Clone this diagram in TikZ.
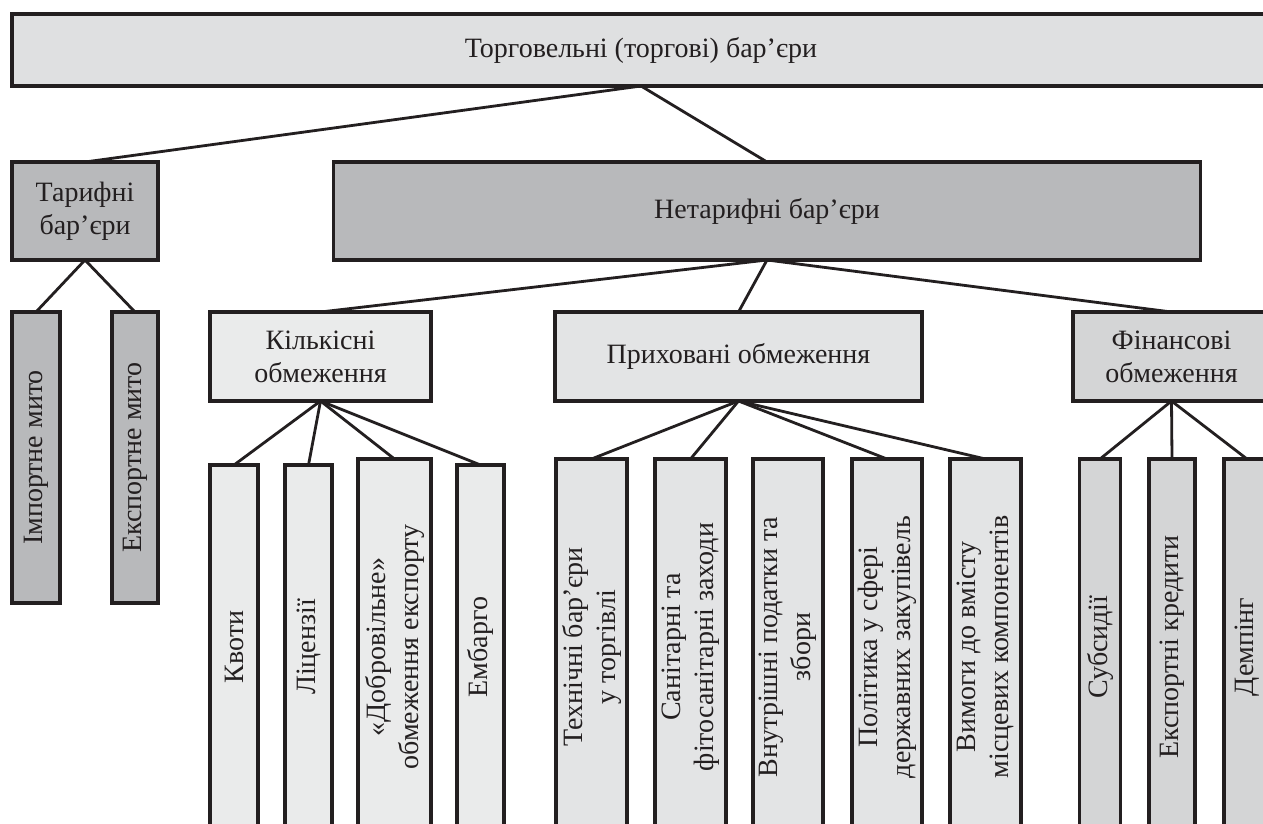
\documentclass[tikz,border=0pt]{standalone}
\usepackage{fontspec}
\setmainfont{Liberation Serif}
\definecolor{linec}{HTML}{231F20}
\definecolor{ctop}{HTML}{DFE0E1}
\definecolor{cdark}{HTML}{B8B9BB}
\definecolor{clight}{HTML}{EAEBEB}
\definecolor{cmid}{HTML}{E3E4E5}
\definecolor{cfin}{HTML}{D4D5D6}
\begin{document}
\begin{tikzpicture}[x=1pt,y=-1pt,
  box/.style={draw=linec, line width=3.5pt, text=linec, align=center, inner sep=2pt, outer sep=0pt,
    font=\fontsize{28}{33}\selectfont},
  vbox/.style={box, rotate=90},
  conn/.style={draw=linec, line width=2.8pt}]
\useasboundingbox (0,0) rectangle (1263,824);
\clip (0,0) rectangle (1263,824);
\fill[white] (0,0) rectangle (1263,824);
% level 0
\node[box, fill=ctop, minimum width=1258, minimum height=72] (top) at (641,50) {Торговельні (торгові) бар’єри};
% level 1
\node[box, fill=cdark, minimum width=146, minimum height=98] (tar) at (85,211) {Тарифні\\бар’єри};
\node[box, fill=cdark, minimum width=867, minimum height=98] (net) at (767,211) {Нетарифні бар’єри};
% level 2
\node[vbox, fill=cdark, minimum width=291, minimum height=48] (imp) at (36,457.5) {Імпортне мито};
\node[vbox, fill=cdark, minimum width=291, minimum height=46] (exp) at (135,457.5) {Експортне мито};
\node[box, fill=clight, minimum width=221, minimum height=89] (kil) at (320.5,356.5) {Кількісні\\обмеження};
\node[box, fill=cmid, minimum width=367, minimum height=89] (pry) at (738.5,356.5) {Приховані обмеження};
\node[box, fill=cfin, minimum width=197, minimum height=89] (fin) at (1171.5,356.5) {Фінансові\\обмеження};
% level 3
\node[vbox, fill=clight, minimum width=364, minimum height=48] (kvo) at (234,647) {Квоти};
\node[vbox, fill=clight, minimum width=364, minimum height=47] (lic) at (308.5,647) {Ліцензії};
\node[vbox, fill=clight, minimum width=376, minimum height=73] (dob) at (394.5,647) {«Добровільне»\\обмеження експорту};
\node[vbox, fill=clight, minimum width=364, minimum height=47] (emb) at (480.5,647) {Ембарго};
\node[vbox, fill=cmid, minimum width=376, minimum height=71] (tex) at (591.5,647) {Технічні бар’єри\\у торгівлі};
\node[vbox, fill=cmid, minimum width=376, minimum height=71] (san) at (690.5,647) {Санітарні та\\фітосанітарні заходи};
\node[vbox, fill=cmid, minimum width=376, minimum height=70] (vnu) at (788,647) {Внутрішні податки та\\збори};
\node[vbox, fill=cmid, minimum width=376, minimum height=70] (pol) at (887,647) {Політика у сфері\\державних закупівель};
\node[vbox, fill=cmid, minimum width=376, minimum height=71] (vym) at (985.5,647) {Вимоги до вмісту\\місцевих компонентів};
\node[vbox, fill=cfin, minimum width=376, minimum height=41] (sub) at (1100,647) {Субсидії};
\node[vbox, fill=cfin, minimum width=376, minimum height=46] (ekr) at (1172,647) {Експортні кредити};
\node[vbox, fill=cfin, minimum width=376, minimum height=46] (dem) at (1247,647) {Демпінг};
% connectors
\draw[conn] (top.south) -- (tar.north);
\draw[conn] (top.south) -- (net.north);
\draw[conn] (tar.south) -- (imp.east);
\draw[conn] (tar.south) -- (exp.east);
\draw[conn] (net.south) -- (kil.north);
\draw[conn] (net.south) -- (pry.north);
\draw[conn] (net.south) -- (fin.north);
\draw[conn] (kil.south) -- (kvo.east);
\draw[conn] (kil.south) -- (lic.east);
\draw[conn] (kil.south) -- (dob.east);
\draw[conn] (kil.south) -- (emb.east);
\draw[conn] (pry.south) -- (tex.east);
\draw[conn] (pry.south) -- (san.east);
\draw[conn] (pry.south) -- (pol.east);
\draw[conn] (pry.south) -- (vym.east);
\draw[conn] (fin.south) -- (sub.east);
\draw[conn] (fin.south) -- (ekr.east);
\draw[conn] (fin.south) -- (dem.east);
\end{tikzpicture}
\end{document}
